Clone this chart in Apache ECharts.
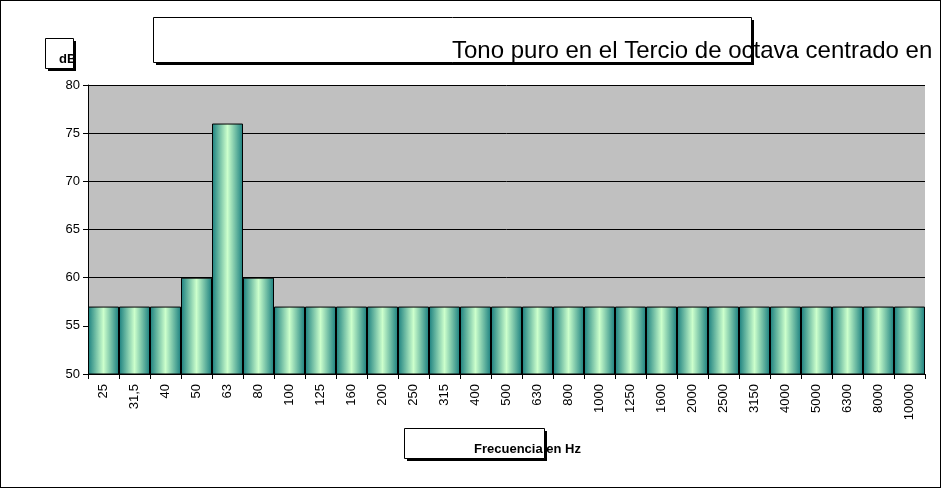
<!DOCTYPE html><html><head><meta charset="utf-8">
<script src="https://cdn.jsdelivr.net/npm/echarts@6/dist/echarts.min.js"></script>
<style>html,body{margin:0;padding:0;background:#fff}#c{width:941px;height:488px;box-sizing:border-box;border:1px solid #000}</style>
</head><body><div id="c"></div><script>
const categories=['25','31,5','40','50','63','80','100','125','160','200','250','315','400','500','630','800','1000','1250','1600','2000','2500','3150','4000','5000','6300','8000','10000'];
const values=[57,57,57,60,76,60,57,57,57,57,57,57,57,57,57,57,57,57,57,57,57,57,57,57,57,57,57];
const yTicks=[50,55,60,65,70,75,80];
const ch=echarts.init(document.getElementById('c'));
const box=(x,y,w,h,text,fs,bold)=>[
 {type:'rect',left:x+3,top:y+3,shape:{width:w,height:h},style:{fill:'#000'}},
 {type:'rect',left:x,top:y,shape:{width:w,height:h},style:{fill:'#fff',stroke:'#000',lineWidth:1}},
 {type:'text',left:x+w/2,top:y+h/2,style:{text:text,fill:'#000',font:(bold?'bold ':'')+fs+'px Arial, "Liberation Sans"',align:'center',verticalAlign:'middle'}}];
const grad={type:'linear',x:0,y:0,x2:1,y2:0,colorStops:[{offset:0,color:'#1a7f7f'},{offset:0.5,color:'#ccffcc'},{offset:1,color:'#1a7f7f'}]};
ch.setOption({
 animation:false,
 grid:{left:87,right:15,top:84,bottom:113},
 graphic:[...box(152,16,598,45,'Tono puro en el Tercio de octava centrado en 63 Hz.',24,false),
          ...box(44,37,28,30,'dB',13,true),
          ...box(403,427,140,30,'Frecuencia en Hz',13,true)],
 xAxis:{type:'category',data:categories,axisLine:{lineStyle:{color:'#000'}},axisTick:{show:true,lineStyle:{color:'#000'},length:5},
   axisLabel:{rotate:90,color:'#000',fontSize:13,fontFamily:'Arial, "Liberation Sans"',margin:10}},
 yAxis:{type:'value',min:50,max:80,interval:5,axisLine:{show:true,lineStyle:{color:'#000'}},axisTick:{show:true,lineStyle:{color:'#000'},length:5},
   axisLabel:{color:'#000',fontSize:13,fontFamily:'Arial, "Liberation Sans"',formatter:v=>yTicks.includes(v)?String(v):''},
   splitLine:{lineStyle:{color:'#000',width:1}},splitArea:{show:true,areaStyle:{color:['#c0c0c0']}}},
 series:[{type:'bar',data:values,barCategoryGap:0,itemStyle:{color:grad,borderColor:'#000',borderWidth:1}}]
});
</script></body></html>
